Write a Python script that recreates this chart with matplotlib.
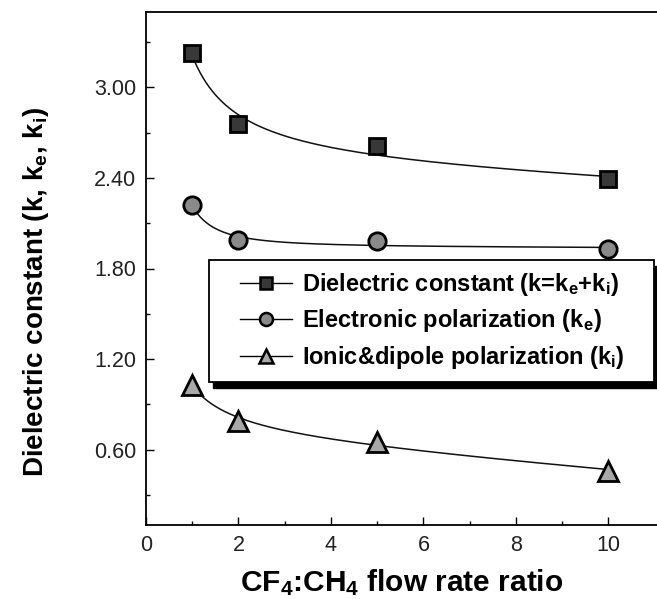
import numpy as np
import matplotlib
matplotlib.use("Agg")
import matplotlib.pyplot as plt
from matplotlib.lines import Line2D
from matplotlib.patches import Rectangle

plt.rcParams['font.family'] = ['Liberation Sans', 'DejaVu Sans']
plt.rcParams['mathtext.fontset'] = 'custom'
plt.rcParams['mathtext.rm'] = 'Liberation Sans'
plt.rcParams['mathtext.bf'] = 'Liberation Sans:bold'
plt.rcParams['mathtext.it'] = 'Liberation Sans:italic'

# ---- data ----
flow_ratio = [1, 2, 5, 10]
dielectric = [3.23, 2.76, 2.61, 2.39]
electronic = [2.22, 1.99, 1.98, 1.93]
ionic = [1.03, 0.79, 0.65, 0.46]

labels = ["Dielectric constant (k=k$_\\mathbf{e}$+k$_\\mathbf{i}$)",
          "Electronic polarization (k$_\\mathbf{e}$)",
          "Ionic&dipole polarization (k$_\\mathbf{i}$)"]
yticks = [0.60, 1.20, 1.80, 2.40, 3.00]
xticks = [0, 2, 4, 6, 8, 10]

W, H = 657, 599
fig = plt.figure(figsize=(W / 100, H / 100), dpi=100)
ax = fig.add_axes([146 / W, (H - 525) / H, (657 - 146) / W, (525 - 12) / H])


def fit_curve(x, y, power):
    x = np.asarray(x, float)
    y = np.asarray(y, float)
    A = np.vstack([np.ones_like(x), x ** (-power), x]).T
    coef, *_ = np.linalg.lstsq(A, y, rcond=None)
    xs = np.linspace(x.min(), x.max(), 300)
    ys = coef[0] + coef[1] * xs ** (-power) + coef[2] * xs
    return xs, ys


series = [
    (dielectric, 's', '#383838', 12, 1.0),
    (electronic, 'o', '#8a8a8a', 12.5, 2.0),
    (ionic, '^', '#a8a8a8', 14, 1.0),
]

handles = []
for (vals, mk, fc, ms, pw), lab in zip(series, labels):
    xs, ys = fit_curve(flow_ratio, vals, pw)
    ax.plot(xs, ys, color='#111111', lw=1.1, zorder=3)
    ax.plot(flow_ratio, vals, linestyle='none', marker=mk, markersize=ms,
            markerfacecolor=fc, markeredgecolor='black', markeredgewidth=2.0,
            zorder=8, clip_on=False)
    handles.append(Line2D([], [], color='black', lw=1.0, marker=mk,
                          markersize=ms * 0.75, markerfacecolor=fc,
                          markeredgecolor='black', markeredgewidth=1.8))

ax.set_xlim(0, 11.05)
ax.set_ylim(0.1, 3.5)
ax.set_xticks(xticks)
ax.set_xticks([1, 3, 5, 7, 9], minor=True)
ax.set_yticks(yticks)
ax.set_yticks([0.3, 0.9, 1.5, 2.1, 2.7, 3.3], minor=True)
ax.set_yticklabels([f"{v:.2f}" for v in yticks])
ax.tick_params(which='both', direction='in', width=1.0, labelsize=15.5,
               colors='black', labelcolor='#222222')
ax.tick_params(which='major', length=6, pad=7)
ax.tick_params(which='minor', length=3)
ax.spines['right'].set_visible(False)
for s in ['left', 'bottom', 'top']:
    ax.spines[s].set_linewidth(1.3)

ax.set_xlabel("CF$_\\mathbf{4}$:CH$_\\mathbf{4}$ flow rate ratio",
              fontsize=21.5, fontweight='bold', labelpad=8)
ax.set_ylabel("Dielectric constant (k, k$_\\mathbf{e}$, k$_\\mathbf{i}$)",
              fontsize=20, fontweight='bold')
ax.yaxis.set_label_coords(-0.186, 0.455)

# legend box with shadow
bx0, by0 = (209 - 146) / 511, (525 - 382) / 513
bw, bh = (654 - 209) / 511, (382 - 260) / 513
shadow = Rectangle((bx0 + 4 / 511, by0 - 6 / 513), bw, bh, transform=ax.transAxes,
                   facecolor='black', edgecolor='black', zorder=5, clip_on=False)
box = Rectangle((bx0, by0), bw, bh, transform=ax.transAxes,
                facecolor='white', edgecolor='black', lw=1.3, zorder=6, clip_on=False)
ax.add_patch(shadow)
ax.add_patch(box)

leg = ax.legend(handles, labels, loc='center',
                bbox_to_anchor=(bx0 + bw / 2 + 0.002, by0 + bh / 2),
                bbox_transform=ax.transAxes, frameon=False,
                prop={'weight': 'bold', 'size': 17}, handlelength=2.2,
                handletextpad=0.4, labelspacing=0.4, borderpad=0.2)
leg.set_zorder(7)

fig.savefig("out.png", dpi=100)
